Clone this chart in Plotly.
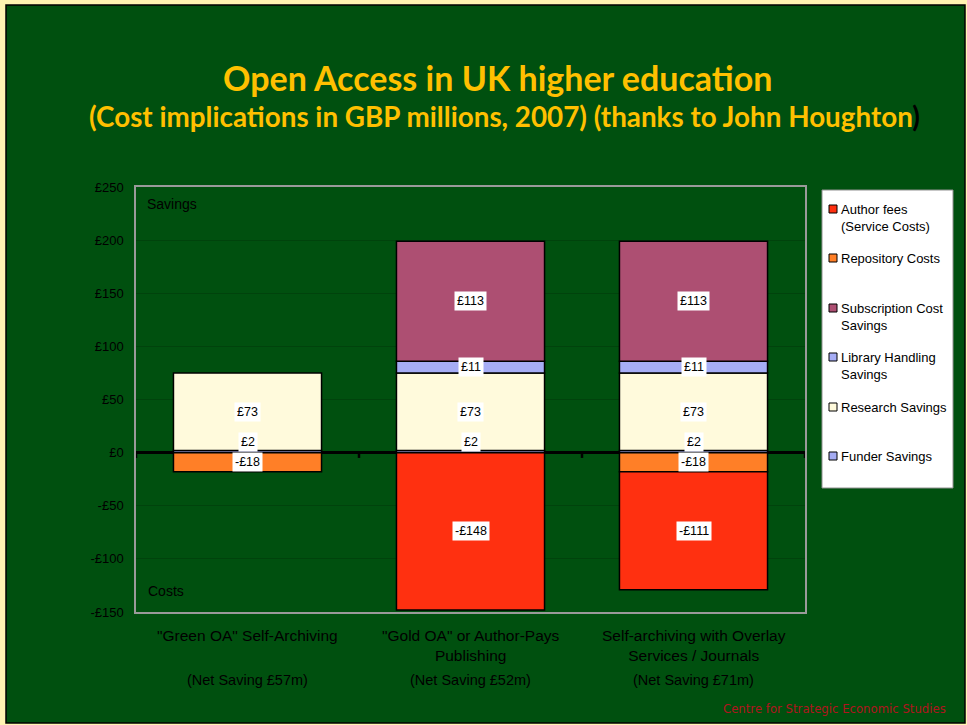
import plotly.graph_objects as go

# ---------------- data ----------------
categories = ['"Green OA" Self-Archiving',
              '"Gold OA" or Author-Pays<br>Publishing',
              'Self-archiving with Overlay<br>Services / Journals']
net_labels = ['(Net Saving £57m)', '(Net Saving £52m)', '(Net Saving £71m)']

funder_savings = [2, 2, 2]
research_savings = [73, 73, 73]
library_savings = [None, 11, 11]
subscription_savings = [None, 113, 113]
repository_costs = [-18, None, -18]
author_fees = [None, -148, -111]

series_names = ['Funder Savings', 'Research Savings', 'Library Handling<br>Savings',
                'Subscription Cost<br>Savings', 'Repository Costs',
                'Author fees<br>(Service Costs)']
series_values = [funder_savings, research_savings, library_savings,
                 subscription_savings, repository_costs, author_fees]
series_colors = ['#A4ABF2', '#FFFADC', '#A6ADF5', '#AD4F72', '#FF7F27', '#FF3010']

y_tickvals = [-150, -100, -50, 0, 50, 100, 150, 200, 250]
y_ticktext = ['-£150', '-£100', '-£50', '£0', '£50', '£100', '£150', '£200', '£250']

# ---------------- layout helpers ----------------
W, H = 967, 725
L, R, T, B = 136, 805, 187, 612
GREEN = '#00500F'
ARIAL = 'Liberation Sans, Arial'


def px(x):
    return (x - L) / (R - L)


def py(y):
    return (B - y) / (B - T)


fig = go.Figure()
x_idx = list(range(len(categories)))
for name, vals, col in zip(series_names, series_values, series_colors):
    fig.add_trace(go.Bar(x=x_idx, y=vals, name=name, marker_color=col,
                         marker_line_color='black', marker_line_width=1.5,
                         showlegend=False, hoverinfo='skip'))

annotations = []
shapes = []

# data labels at segment centres (computed from stacked data)
pos_base = [0.0] * len(categories)
neg_base = [0.0] * len(categories)
for si, vals in enumerate(series_values):
    for ci, v in enumerate(vals):
        if v is None:
            continue
        if v >= 0:
            lo = pos_base[ci]
            hi = lo + v
            pos_base[ci] = hi
        else:
            hi = neg_base[ci]
            lo = hi + v
            neg_base[ci] = lo
        label = ('£%d' % v) if v >= 0 else ('-£%d' % (-v))
        small = abs(v) < 5
        annotations.append(dict(
            x=ci, y=hi if small else (lo + hi) / 2, xref='x', yref='y',
            text=label, showarrow=False, xanchor='center',
            yanchor='bottom' if small else 'middle', yshift=-1 if small else 0,
            bgcolor='white', borderpad=2,
            font=dict(family=ARIAL, size=12.5, color='black')))

# category labels & net savings
for ci, (c, n) in enumerate(zip(categories, net_labels)):
    annotations.append(dict(x=ci, xref='x', y=py(625), yref='paper', text=c,
                            showarrow=False, xanchor='center', yanchor='top',
                            font=dict(family=ARIAL, size=15.5, color='black')))
    annotations.append(dict(x=ci, xref='x', y=py(670), yref='paper', text=n,
                            showarrow=False, xanchor='center', yanchor='top',
                            font=dict(family=ARIAL, size=14.5, color='black')))

# Savings / Costs
annotations.append(dict(x=px(145), y=py(204), xref='paper', yref='paper', text='Savings',
                        showarrow=False, xanchor='left', yanchor='middle',
                        font=dict(family=ARIAL, size=14, color='black')))
annotations.append(dict(x=px(146), y=py(591), xref='paper', yref='paper', text='Costs',
                        showarrow=False, xanchor='left', yanchor='middle',
                        font=dict(family=ARIAL, size=14, color='black')))

# titles
annotations.append(dict(x=px(497), y=py(77), xref='paper', yref='paper',
                        text='Open Access in UK higher education', showarrow=False,
                        xanchor='center', yanchor='middle',
                        font=dict(family='Lato', size=34, color='#FFC000', weight='bold')))
annotations.append(dict(x=px(504), y=py(116), xref='paper', yref='paper',
                        text='(Cost implications in GBP millions, 2007) (thanks to John Houghton<span style="color:black">)</span>',
                        showarrow=False, xanchor='center', yanchor='middle',
                        font=dict(family='Lato', size=27.8, color='#FFC000', weight='bold')))
# footer
annotations.append(dict(x=px(948), y=py(709), xref='paper', yref='paper',
                        text='Centre for Strategic Economic Studies', showarrow=False,
                        xanchor='right', yanchor='middle',
                        font=dict(family='DejaVu Sans', size=11.7, color='#B0141E')))

# ---- frame ----
shapes.append(dict(type='rect', xref='paper', yref='paper', layer='below',
                   x0=px(6), x1=px(965), y0=py(723), y1=py(5),
                   fillcolor=GREEN, line=dict(color='black', width=1.5)))

# zero axis tick marks at category boundaries
for b in [i - 0.5 for i in range(len(categories) + 1)]:
    shapes.append(dict(type='line', xref='x', yref='y', x0=b, x1=b, y0=0, y1=-5,
                       line=dict(color='black', width=2.5)))

# ---- manual legend ----
shapes.append(dict(type='rect', xref='paper', yref='paper',
                   x0=px(822), x1=px(953), y0=py(488), y1=py(190),
                   fillcolor='white', line=dict(color='#909090', width=1)))
legend_rows = [209, 258, 308, 357, 407, 456]
for (name, col), yy in zip(list(zip(series_names, series_colors))[::-1], legend_rows):
    shapes.append(dict(type='rect', xref='paper', yref='paper',
                       x0=px(829), x1=px(837), y0=py(yy + 4), y1=py(yy - 4),
                       fillcolor=col, line=dict(color='black', width=1)))
    annotations.append(dict(x=px(839), y=py(yy - 9), xref='paper', yref='paper',
                            text=name, showarrow=False, xanchor='left', yanchor='top',
                            align='left',
                            font=dict(family=ARIAL, size=13, color='black')))

fig.update_layout(
    width=W, height=H,
    margin=dict(l=L, r=W - R, t=T, b=H - B, pad=0),
    paper_bgcolor='#FFF4B2', plot_bgcolor=GREEN,
    barmode='relative', bargap=0.336,
    showlegend=False,
    annotations=annotations, shapes=shapes,
    xaxis=dict(range=[-0.5, len(categories) - 0.5], showticklabels=False, ticks='',
               showgrid=False, showline=True, linecolor='#9A9A9A', linewidth=1.5,
               mirror=True, zeroline=False, fixedrange=True),
    yaxis=dict(range=[-150, 250], tickvals=y_tickvals, ticktext=y_ticktext,
               tickfont=dict(family=ARIAL, size=13, color='black'),
               ticks='', ticklen=0, ticklabelstandoff=8,
               showgrid=True, gridcolor='#00430C', gridwidth=1,
               zeroline=True, zerolinecolor='black', zerolinewidth=3,
               showline=True, linecolor='#9A9A9A', linewidth=1.5, mirror=True,
               fixedrange=True),
)

fig.write_html('out.html', config={'displayModeBar': False},
               post_script="document.body.style.margin='0';document.body.style.overflow='hidden';")
